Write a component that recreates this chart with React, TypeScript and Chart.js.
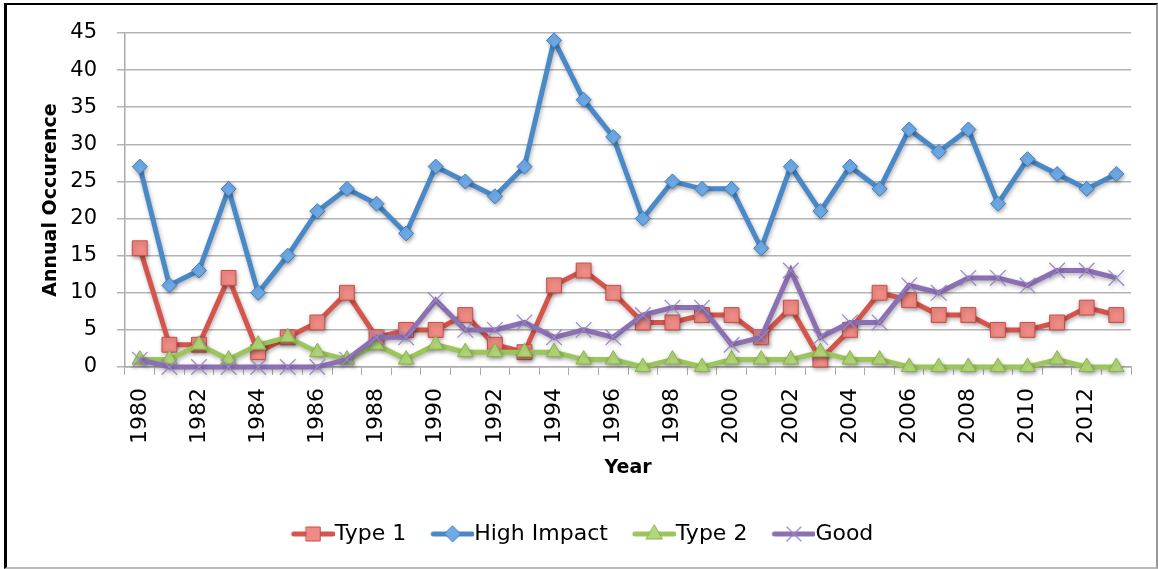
import React, { useEffect, useRef } from "react";
import { Chart, registerables } from "chart.js";

Chart.register(...registerables);

const years = [
  "1980", "1981", "1982", "1983", "1984", "1985", "1986", "1987", "1988", "1989",
  "1990", "1991", "1992", "1993", "1994", "1995", "1996", "1997", "1998", "1999",
  "2000", "2001", "2002", "2003", "2004", "2005", "2006", "2007", "2008", "2009",
  "2010", "2011", "2012", "2013",
];
const type1 = [16, 3, 3, 12, 2, 4, 6, 10, 4, 5, 5, 7, 3, 2, 11, 13, 10, 6, 6, 7, 7, 4, 8, 1, 5, 10, 9, 7, 7, 5, 5, 6, 8, 7];
const highImpact = [27, 11, 13, 24, 10, 15, 21, 24, 22, 18, 27, 25, 23, 27, 44, 36, 31, 20, 25, 24, 24, 16, 27, 21, 27, 24, 32, 29, 32, 22, 28, 26, 24, 26];
const type2 = [1, 1, 3, 1, 3, 4, 2, 1, 3, 1, 3, 2, 2, 2, 2, 1, 1, 0, 1, 0, 1, 1, 1, 2, 1, 1, 0, 0, 0, 0, 0, 1, 0, 0];
const good = [1, 0, 0, 0, 0, 0, 0, 1, 4, 4, 9, 5, 5, 6, 4, 5, 4, 7, 8, 8, 3, 4, 13, 4, 6, 6, 11, 10, 12, 12, 11, 13, 13, 12];

const seriesLabels = ["Type 1", "High Impact", "Type 2", "Good"];
const yTicks = { min: 0, max: 45, step: 5 };

const FONT = "DejaVu Sans";
const LEGEND_FS = 22;
const BOX_W = 32;

const RED = { line: "#d5554d", fill: "#ef8a84", border: "#c94c46" };
const BLUE = { line: "#4a89c8", fill: "#6eaae6", border: "#3f7ebd" };
const GREEN = { line: "#9cc65c", fill: "#b3d878", border: "#89b24a" };
const PURPLE = { line: "#8c70b4", fill: "#9b85c7", border: "#9b85c7" };

function makeIcon(kind: string, c: { line: string; fill: string; border: string }) {
  const hf = LEGEND_FS / 2;
  const w = BOX_W + 2 * hf;
  const h = 26;
  const cv = document.createElement("canvas");
  cv.width = w;
  cv.height = h;
  const ctx = cv.getContext("2d")!;
  const cy = h / 2;
  ctx.strokeStyle = c.line;
  ctx.lineWidth = 5;
  ctx.lineCap = "round";
  ctx.beginPath();
  ctx.moveTo(hf + 2, cy);
  ctx.lineTo(w - 2, cy);
  ctx.stroke();
  const cx = (hf + w) / 2;
  ctx.fillStyle = c.fill;
  ctx.strokeStyle = c.border;
  ctx.lineWidth = 1;
  ctx.beginPath();
  if (kind === "rect") {
    ctx.rect(cx - 7, cy - 7, 14, 14);
    ctx.fill();
    ctx.stroke();
  } else if (kind === "rectRot") {
    ctx.moveTo(cx, cy - 8);
    ctx.lineTo(cx + 8, cy);
    ctx.lineTo(cx, cy + 8);
    ctx.lineTo(cx - 8, cy);
    ctx.closePath();
    ctx.fill();
    ctx.stroke();
  } else if (kind === "triangle") {
    ctx.moveTo(cx, cy - 9);
    ctx.lineTo(cx + 8, cy + 5);
    ctx.lineTo(cx - 8, cy + 5);
    ctx.closePath();
    ctx.fill();
    ctx.stroke();
  } else {
    ctx.strokeStyle = c.fill;
    ctx.lineWidth = 1.2;
    ctx.moveTo(cx - 7, cy - 7);
    ctx.lineTo(cx + 7, cy + 7);
    ctx.moveTo(cx + 7, cy - 7);
    ctx.lineTo(cx - 7, cy + 7);
    ctx.stroke();
  }
  return cv;
}

const shadowPlugin = {
  id: "seriesShadow",
  beforeDatasetsDraw(chart: any) {
    const ctx = chart.ctx;
    ctx.save();
    ctx.shadowColor = "rgba(0,0,0,0.3)";
    ctx.shadowBlur = 4;
    ctx.shadowOffsetX = 1;
    ctx.shadowOffsetY = 2;
  },
  afterDatasetsDraw(chart: any) {
    chart.ctx.restore();
  },
};

export default function App() {
  const ref = useRef<HTMLCanvasElement | null>(null);

  useEffect(() => {
    if (!ref.current) return;
    const icons = [
      makeIcon("rect", RED),
      makeIcon("rectRot", BLUE),
      makeIcon("triangle", GREEN),
      makeIcon("cross", PURPLE),
    ];
    const chart = new Chart(ref.current, {
      type: "line",
      data: {
        labels: years,
        datasets: [
          {
            label: seriesLabels[0],
            data: type1,
            order: 3,
            borderColor: RED.line,
            borderWidth: 5,
            pointStyle: "rect",
            pointRadius: 10.5,
            pointBackgroundColor: RED.fill,
            pointBorderColor: RED.border,
            pointBorderWidth: 1,
            clip: false,
          },
          {
            label: seriesLabels[1],
            data: highImpact,
            order: 2,
            borderColor: BLUE.line,
            borderWidth: 5,
            pointStyle: "rectRot",
            pointRadius: 7.5,
            pointBackgroundColor: BLUE.fill,
            pointBorderColor: BLUE.border,
            pointBorderWidth: 1,
            clip: false,
          },
          {
            label: seriesLabels[2],
            data: type2,
            order: 1,
            borderColor: GREEN.line,
            borderWidth: 5,
            pointStyle: "triangle",
            pointRadius: 9,
            pointBackgroundColor: GREEN.fill,
            pointBorderColor: GREEN.border,
            pointBorderWidth: 1,
            clip: false,
          },
          {
            label: seriesLabels[3],
            data: good,
            order: 0,
            borderColor: PURPLE.line,
            borderWidth: 5,
            pointStyle: "crossRot",
            pointRadius: 11,
            pointBackgroundColor: PURPLE.fill,
            pointBorderColor: PURPLE.fill,
            pointBorderWidth: 1.2,
            clip: false,
          },
        ] as any,
      },
      options: {
        animation: false,
        responsive: false,
        layout: { padding: { left: 23, right: 21, top: 28, bottom: 12 } },
        plugins: {
          tooltip: { enabled: false },
          legend: {
            position: "bottom",
            labels: {
              usePointStyle: true,
              pointStyleWidth: BOX_W,
              padding: 25,
              color: "#000",
              font: { family: FONT, size: LEGEND_FS },
              generateLabels: (ch: any) =>
                ch.data.datasets.map((ds: any, i: number) => ({
                  text: ds.label,
                  pointStyle: icons[i],
                  fillStyle: "rgba(0,0,0,0)",
                  strokeStyle: "rgba(0,0,0,0)",
                  lineWidth: 0,
                  hidden: false,
                  datasetIndex: i,
                  fontColor: "#000",
                })),
            },
          },
          seriesShadow: {},
        } as any,
        scales: {
          x: {
            type: "category",
            offset: true,
            afterFit: (s: any) => {
              s.height = 131;
              s.paddingTop = 0;
              s.paddingBottom = 0;
            },
            grid: {
              display: true,
              drawOnChartArea: false,
              drawTicks: true,
              offset: true,
              tickLength: 8,
              color: "#aaaaaa",
              lineWidth: 1,
            },
            border: { display: true, color: "#aaaaaa", width: 1.5 },
            ticks: {
              autoSkip: false,
              minRotation: 90,
              maxRotation: 90,
              padding: 13,
              color: "#000",
              font: { family: FONT, size: 22 },
              callback: (_v: any, i: number) => (i % 2 === 0 ? years[i] : ""),
            },
            title: {
              display: true,
              text: "Year",
              color: "#000",
              font: { family: FONT, size: 19, weight: "bold" },
              padding: { top: 0, bottom: 19 },
            },
          },
          y: {
            min: yTicks.min,
            max: yTicks.max,
            afterFit: (s: any) => {
              s.width = 95;
              s.paddingTop = 0;
              s.paddingBottom = 0;
            },
            grid: {
              color: "#b4b4b4",
              lineWidth: 1.5,
              tickLength: 8,
              drawTicks: true,
            },
            border: { display: true, color: "#aaaaaa", width: 1.5 },
            ticks: {
              stepSize: yTicks.step,
              padding: 20,
              color: "#000",
              font: { family: FONT, size: 21 },
            },
            title: {
              display: true,
              text: "Annual Occurence",
              color: "#000",
              font: { family: FONT, size: 19, weight: "bold" },
              padding: { top: 9.6, bottom: 0 },
            },
          },
        },
      } as any,
      plugins: [shadowPlugin],
    });
    return () => chart.destroy();
  }, []);

  return (
    <div
      style={{
        position: "fixed",
        left: 4,
        top: 3,
        width: 1154,
        height: 566,
        boxSizing: "border-box",
        borderLeft: "3px solid #000",
        borderTop: "2px solid #000",
        borderRight: "2px solid #999",
        borderBottom: "2px solid #bbb",
        background: "#fff",
      }}
    >
      <canvas ref={ref} width={1149} height={562} style={{ display: "block" }} />
    </div>
  );
}
